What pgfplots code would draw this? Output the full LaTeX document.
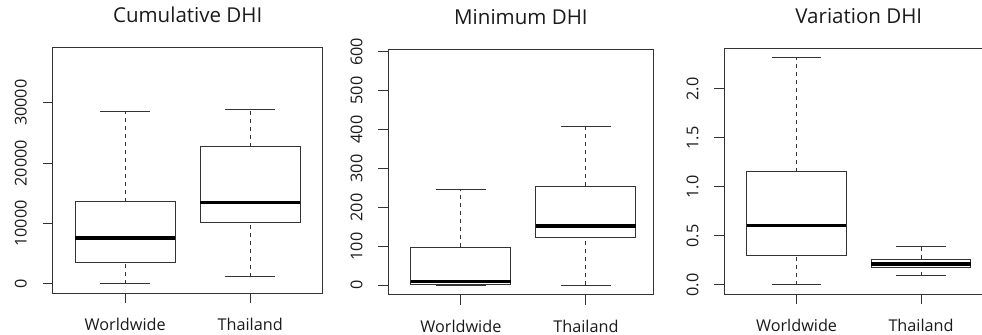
\documentclass[border=0pt]{standalone}
\usepackage{fontspec}
\setmainfont{Open Sans}
\usepackage{pgfplots}
\pgfplotsset{compat=1.18}
\definecolor{lc}{HTML}{333333}
\definecolor{tc}{HTML}{1A1A1A}
\pgfplotsset{
  wh/.style={lc, line width=1bp, dash pattern=on 4bp off 4bp},
  cap/.style={lc, line width=1bp},
  bx/.style={draw=lc, fill=white, line width=1bp},
  md/.style={black, line width=3.3bp},
  rpanel/.style={
    scale only axis,
    anchor=south west,
    xmin=0.42,
    xtick={1,2}, xticklabels={Worldwide,Thailand},
    xtick pos=bottom, ytick pos=left,
    tick align=outside,
    major tick length=10bp,
    tick style={lc, line width=1bp},
    axis line style={lc, line width=1bp},
    tick label style={font=\fontsize{16.3}{19}\selectfont, text=tc},
    /pgf/number format/assume math mode=true,
    /pgf/number format/1000 sep={},
    scaled y ticks=false,
    yticklabel style={rotate=90, anchor=base, inner sep=0pt},
    xticklabel style={anchor=base, inner sep=0pt},
    yticklabel shift=16bp,
    xticklabel shift=27.5bp,
    title style={font=\fontsize{20.6}{24}\selectfont, text=tc, anchor=base, yshift=19bp, inner sep=0pt},
  },
}
\begin{document}
\begin{tikzpicture}
\useasboundingbox (0,0) rectangle (982bp,335bp);
% Panel 1
\begin{axis}[rpanel, at={(52.7bp,41.7bp)}, width=270bp, height=246bp,
  xmax=2.58, ymin=-1540, ymax=39180,
  ytick={0,10000,20000,30000},
  title={Cumulative DHI}]
% Worldwide
\addplot[wh] coordinates {(1,0) (1,3590)};
\addplot[wh] coordinates {(1,13576) (1,28477)};
\addplot[cap] coordinates {(0.8,0) (1.2,0)};
\addplot[cap] coordinates {(0.8,28477) (1.2,28477)};
\addplot[bx] coordinates {(0.6,3590) (1.4,3590) (1.4,13576) (0.6,13576)} -- cycle;
\addplot[md] coordinates {(0.6,7616) (1.4,7616)};
% Thailand
\addplot[wh] coordinates {(2,1209) (2,10150)};
\addplot[wh] coordinates {(2,22680) (2,28860)};
\addplot[cap] coordinates {(1.8,1209) (2.2,1209)};
\addplot[cap] coordinates {(1.8,28860) (2.2,28860)};
\addplot[bx] coordinates {(1.6,10150) (2.4,10150) (2.4,22680) (1.6,22680)} -- cycle;
\addplot[md] coordinates {(1.6,13460) (2.4,13460)};
\end{axis}
% Panel 2
\begin{axis}[rpanel, at={(388.3bp,40.3bp)}, width=265.2bp, height=245.4bp,
  xmax=2.54, ymin=-24.1, ymax=606.2,
  ytick={0,100,200,300,400,500,600},
  title={Minimum DHI}]
% Worldwide
\addplot[wh] coordinates {(1,0) (1,1.5)};
\addplot[wh] coordinates {(1,97.6) (1,246.6)};
\addplot[cap] coordinates {(0.8,0) (1.2,0)};
\addplot[cap] coordinates {(0.8,246.6) (1.2,246.6)};
\addplot[bx] coordinates {(0.6,1.5) (1.4,1.5) (1.4,97.6) (0.6,97.6)} -- cycle;
\addplot[md] coordinates {(0.6,9.2) (1.4,9.2)};
% Thailand
\addplot[wh] coordinates {(2,0) (2,122.3)};
\addplot[wh] coordinates {(2,255) (2,408.4)};
\addplot[cap] coordinates {(1.8,0) (2.2,0)};
\addplot[cap] coordinates {(1.8,408.4) (2.2,408.4)};
\addplot[bx] coordinates {(1.6,122.3) (2.4,122.3) (2.4,255) (1.6,255)} -- cycle;
\addplot[md] coordinates {(1.6,152.3) (2.4,152.3)};
\end{axis}
% Panel 3
\begin{axis}[rpanel, at={(724.3bp,40.7bp)}, width=269bp, height=246bp,
  xmax=2.58, ymin=-0.095, ymax=2.415,
  ytick={0,0.5,1,1.5,2},
  yticklabel style={/pgf/number format/fixed, /pgf/number format/fixed zerofill, /pgf/number format/precision=1},
  title={Variation DHI}]
% Worldwide
\addplot[wh] coordinates {(1,0) (1,0.299)};
\addplot[wh] coordinates {(1,1.156) (1,2.319)};
\addplot[cap] coordinates {(0.8,0) (1.2,0)};
\addplot[cap] coordinates {(0.8,2.319) (1.2,2.319)};
\addplot[bx] coordinates {(0.6,0.299) (1.4,0.299) (1.4,1.156) (0.6,1.156)} -- cycle;
\addplot[md] coordinates {(0.6,0.605) (1.4,0.605)};
% Thailand
\addplot[wh] coordinates {(2,0.095) (2,0.18)};
\addplot[wh] coordinates {(2,0.265) (2,0.391)};
\addplot[cap] coordinates {(1.8,0.095) (2.2,0.095)};
\addplot[cap] coordinates {(1.8,0.391) (2.2,0.391)};
\addplot[bx] coordinates {(1.6,0.18) (2.4,0.18) (2.4,0.265) (1.6,0.265)} -- cycle;
\addplot[md] coordinates {(1.6,0.214) (2.4,0.214)};
\end{axis}
\end{tikzpicture}
\end{document}
